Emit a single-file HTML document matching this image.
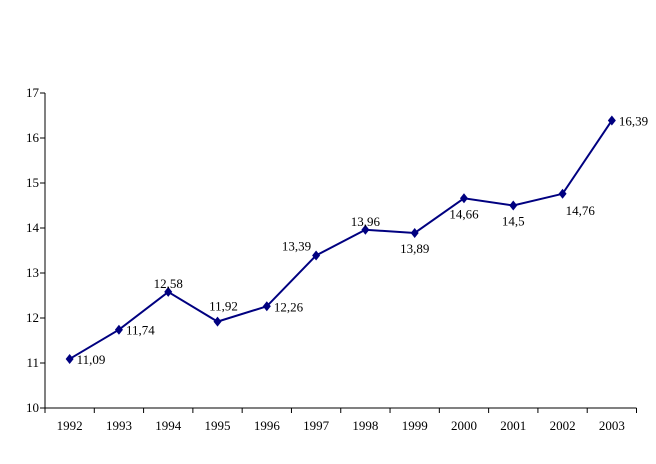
<!DOCTYPE html>
<html><head><meta charset="utf-8"><style>
body{margin:0;background:#fff}
svg text{font-family:"Liberation Serif",serif;font-size:13px;fill:#000}
</style></head><body>
<svg id="c" width="656" height="459"></svg>
<script>
const categories=["1992","1993","1994","1995","1996","1997","1998","1999","2000","2001","2002","2003"];
const values=[11.09,11.74,12.58,11.92,12.26,13.39,13.96,13.89,14.66,14.5,14.76,16.39];
const valueLabels=["11,09","11,74","12,58","11,92","12,26","13,39","13,96","13,89","14,66","14,5","14,76","16,39"];
const labelPlacement=["right","right","above","aboveright","right","leftabove","above","below","below","below","belowright","right"];
const yTicks=[10,11,12,13,14,15,16,17];
const NS="http://www.w3.org/2000/svg",svg=document.getElementById('c');
const x0=45,x1=636.5,yb=408,yt=93,ymin=10,ymax=17;
const bw=(x1-x0)/categories.length;
const X=i=>x0+bw*(i+0.5), Y=v=>yb-(v-ymin)/(ymax-ymin)*(yb-yt);
function el(t,a,p){const e=document.createElementNS(NS,t);for(const k in a)e.setAttribute(k,a[k]);(p||svg).appendChild(e);return e;}
let ax=el('line',{x1:x0,y1:yt,x2:x0,y2:yb,stroke:'#000'});


let axx=el('line',{x1:x0,y1:yb,x2:x1,y2:yb,stroke:'#000'});


yTicks.forEach(v=>{const y=Y(v);
el('line',{x1:x0-5,y1:y,x2:x0,y2:y,stroke:'#000'});
const t=el('text',{x:39,y:y+4,'text-anchor':'end'});t.textContent=v;

});
for(let i=0;i<=categories.length;i++){const x=x0+bw*i;el('line',{x1:x,y1:yb,x2:x,y2:yb+5,stroke:'#000'});}
categories.forEach((c,i)=>{const t=el('text',{x:X(i),y:430,'text-anchor':'middle'});t.textContent=c;

});
const pl=el('polyline',{points:values.map((v,i)=>X(i)+','+Y(v)).join(' '),fill:'none',stroke:'#000080','stroke-width':2});


values.forEach((v,i)=>{const x=X(i),y=Y(v);
const m=el('path',{d:`M${x} ${y-5}L${x+4} ${y}L${x} ${y+5}L${x-4} ${y}Z`,fill:'#000080'});


let lx=x,ly=y,anc='middle';const p=labelPlacement[i];
if(p==='right'){lx=x+7;ly=y+5;anc='start';}
else if(p==='above'){ly=y-4;}
else if(p==='aboveright'){lx=x+6;ly=y-11;}
else if(p==='below'){ly=y+20;}
else if(p==='leftabove'){lx=x-5;ly=y-5;anc='end';}
else if(p==='belowright'){lx=x+3;ly=y+21;anc='start';}
const t=el('text',{x:lx,y:ly,'text-anchor':anc});t.textContent=valueLabels[i];

});
</script></body></html>
